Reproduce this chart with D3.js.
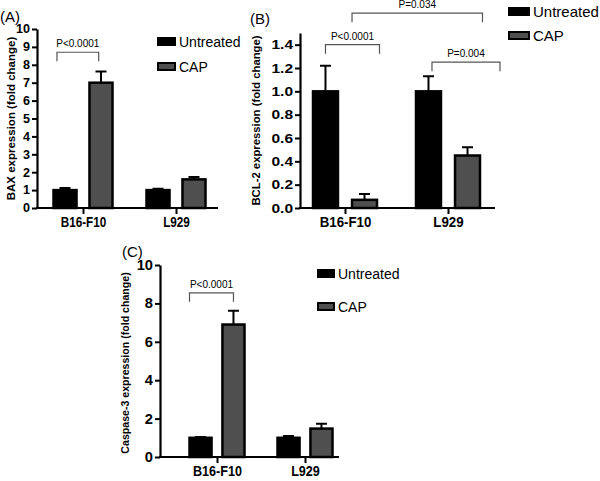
<!DOCTYPE html>
<html>
<head>
<meta charset="utf-8">
<script src="https://cdn.jsdelivr.net/npm/d3@7"></script>
<style>
body { margin: 0; background: #fff; }
text { font-family: "Liberation Sans", Arial, sans-serif; }
</style>
</head>
<body>
<div id="chart"></div>
<script>
// Data
var groups = ["B16-F10", "L929"];
var series = ["Untreated", "CAP"];

var baxUntreated = [1.0, 1.0];
var baxCap = [7.0, 1.6];
var baxUntreatedErr = [0.12, 0.08];
var baxCapErr = [0.62, 0.13];

var bclUntreated = [1.0, 1.0];
var bclCap = [0.07, 0.45];
var bclUntreatedErr = [0.22, 0.13];
var bclCapErr = [0.05, 0.07];

var caspUntreated = [1.0, 1.0];
var caspCap = [6.9, 1.48];
var caspUntreatedErr = [0.04, 0.1];
var caspCapErr = [0.72, 0.25];

var baxTicks = [0, 1, 2, 3, 4, 5, 6, 7, 8, 9, 10];
var bclTicks = [0, 0.2, 0.4, 0.6, 0.8, 1.0, 1.2, 1.4];
var caspTicks = [0, 2, 4, 6, 8, 10];

// significance labels: [text, from group, from series, to group, to series, level]
var baxPairs = [["P<0.0001", 0, 0, 0, 1, 8.7]];
var bclPairs = [["P<0.0001", 0, 0, 0, 1, 1.4],
                ["P=0.004", 1, 0, 1, 1, 1.25],
                ["P=0.034", 0, 1, 1, 1, 1.67]];
var caspPairs = [["P<0.0001", 0, 0, 0, 1, 8.55]];

var colors = ["#000000", "#4f4f4f"];

var svg = d3.select("#chart")
	.append("svg")
	.attr("width", 600)
	.attr("height", 481);

function drawPanel(p) {
	var g = svg.append("g");

	var y = d3.scaleLinear().domain([0, p.max]).range([p.bottom, p.top]);
	var x0 = d3.scalePoint().domain(groups).range(p.centers);
	var x1 = d3.scaleBand().domain(series)
		.range([-p.span / 2, p.span / 2])
		.paddingInner(p.pad);
	var bw = x1.bandwidth();

	// rows for bars
	var rows = [];
	groups.forEach((grp, i) => {
		rows.push({ g: grp, s: series[0], v: p.untreated[i], e: p.untreatedErr[i] });
		rows.push({ g: grp, s: series[1], v: p.cap[i], e: p.capErr[i] });
	});

	// error bars (upper only)
	g.selectAll(".err")
		.data(rows)
		.enter()
		.append("path")
		.attr("d", d => {
			var cx = x0(d.g) + x1(d.s) + bw / 2;
			return "M" + cx + "," + y(d.v) + "V" + y(d.v + d.e) +
				"M" + (cx - 5.5) + "," + y(d.v + d.e) + "H" + (cx + 5.5);
		})
		.attr("stroke", "#000")
		.attr("stroke-width", 2)
		.attr("fill", "none");

	g.selectAll(".bar")
		.data(rows)
		.enter()
		.append("rect")
		.attr("x", d => x0(d.g) + x1(d.s))
		.attr("y", d => y(d.v))
		.attr("width", bw)
		.attr("height", d => y(0) - y(d.v))
		.attr("fill", d => colors[series.indexOf(d.s)])
		.attr("stroke", "#000")
		.attr("stroke-width", 2.5);

	// y axis
	var yAxis = g.append("g")
		.attr("transform", `translate(${p.left},0)`)
		.call(d3.axisLeft(y).tickValues(p.ticks).tickSize(5).tickSizeOuter(0)
			.tickPadding(2).tickFormat(d3.format(p.fmt)));
	yAxis.select(".domain").attr("stroke-width", 2.2);
	yAxis.selectAll(".tick line").attr("stroke-width", 2);
	yAxis.selectAll("text")
		.attr("font-size", p.tickFont)
		.attr("font-weight", "bold")
		.attr("fill", "#000")
		.attr("font-family", "Liberation Sans, Arial, sans-serif")
		.attr("transform", `translate(-7,0)scale(${p.tickScale},1)translate(7,0)`);

	// x axis
	var xAxis = g.append("g")
		.attr("transform", `translate(0,${p.bottom})`)
		.call(d3.axisBottom(x0).tickSize(6).tickPadding(3));
	xAxis.select(".domain").remove();
	xAxis.append("line")
		.attr("x1", p.left - 1)
		.attr("x2", p.right)
		.attr("stroke", "#000")
		.attr("stroke-width", 2.2);
	xAxis.selectAll(".tick line").attr("stroke-width", 2);
	xAxis.selectAll("text")
		.attr("font-size", "14px")
		.attr("font-weight", "bold")
		.attr("fill", "#000")
		.attr("font-family", "Liberation Sans, Arial, sans-serif")
		.attr("transform", `scale(${p.labScale},1)`);

	// y axis title
	g.append("text")
		.attr("transform", `translate(${p.titleX}, ${(p.top + p.bottom) / 2 + p.titleDy})rotate(-90)`)
		.attr("text-anchor", "middle")
		.attr("font-size", p.titleFont)
		.attr("font-weight", "bold")
		.text(p.title);

	// panel letter
	g.append("text")
		.attr("x", p.letterX)
		.attr("y", p.letterY)
		.attr("font-size", "15px")
		.text(p.letter);

	// significance brackets
	p.pairs.forEach((pr, k) => {
		var xa = x0(groups[pr[1]]) + x1(series[pr[2]]) + bw * p.bracketFrom[k];
		var xb = x0(groups[pr[3]]) + x1(series[pr[4]]) + bw * p.bracketTo[k];
		var yt = y(pr[5]);
		g.append("path")
			.attr("d", `M${xa},${yt + 9}V${yt}H${xb}V${yt + 9}`)
			.attr("fill", "none")
			.attr("stroke", "#555")
			.attr("stroke-width", 1.2);
		g.append("text")
			.attr("x", (xa + xb) / 2)
			.attr("y", yt - 5)
			.attr("text-anchor", "middle")
			.attr("font-size", "10px")
			.text(pr[0]);
	});

	// legend
	series.forEach((s, i) => {
		g.append("rect")
			.attr("x", p.legX)
			.attr("y", p.legY + i * p.legGap)
			.attr("width", p.legW)
			.attr("height", 7)
			.attr("fill", colors[i])
			.attr("stroke", "#000")
			.attr("stroke-width", 2);
		g.append("text")
			.attr("x", p.legX + p.legW + 4)
			.attr("y", p.legY + i * p.legGap + 9)
			.attr("font-size", p.legFont)
			.text(s);
	});
}

drawPanel({
	letter: "(A)", letterX: 0, letterY: 22,
	title: "BAX expression (fold change)", titleX: 15, titleDy: 0, titleFont: "11.5px",
	untreated: baxUntreated, cap: baxCap, untreatedErr: baxUntreatedErr, capErr: baxCapErr,
	ticks: baxTicks, fmt: "d", max: 10, tickFont: "12px", tickScale: 1.05, labScale: 0.84,
	left: 37, right: 218, top: 29, bottom: 208, centers: [83, 176], span: 59, pad: 0.36,
	pairs: baxPairs, bracketFrom: [0.15], bracketTo: [0.4],
	legX: 158, legY: 38, legGap: 25, legW: 17, legFont: "14px"
});

drawPanel({
	letter: "(B)", letterX: 250, letterY: 24,
	title: "BCL-2 expression (fold change)", titleX: 260, titleDy: 0, titleFont: "11.3px",
	untreated: bclUntreated, cap: bclCap, untreatedErr: bclUntreatedErr, capErr: bclCapErr,
	ticks: bclTicks, fmt: ".1f", max: 1.5, tickFont: "13.5px", tickScale: 1.15, labScale: 0.95,
	left: 300, right: 495, top: 33, bottom: 208, centers: [345, 448], span: 64, pad: 0.36,
	pairs: bclPairs, bracketFrom: [0.5, 0.64, 0], bracketTo: [1.1, 1.8, 1.1],
	legX: 509, legY: 8, legGap: 24, legW: 20, legFont: "15px"
});

drawPanel({
	letter: "(C)", letterX: 122, letterY: 257,
	title: "Caspase-3 expression (fold change)", titleX: 129, titleDy: 2, titleFont: "10.6px",
	untreated: caspUntreated, cap: caspCap, untreatedErr: caspUntreatedErr, capErr: caspCapErr,
	ticks: caspTicks, fmt: "d", max: 10, tickFont: "14px", tickScale: 1.05, labScale: 0.9,
	left: 160, right: 339, top: 265, bottom: 457, centers: [217, 305], span: 55, pad: 0.33,
	pairs: caspPairs, bracketFrom: [0], bracketTo: [0.5],
	legX: 318, legY: 270, legGap: 33, legW: 16, legFont: "14px"
});
</script>
</body>
</html>
